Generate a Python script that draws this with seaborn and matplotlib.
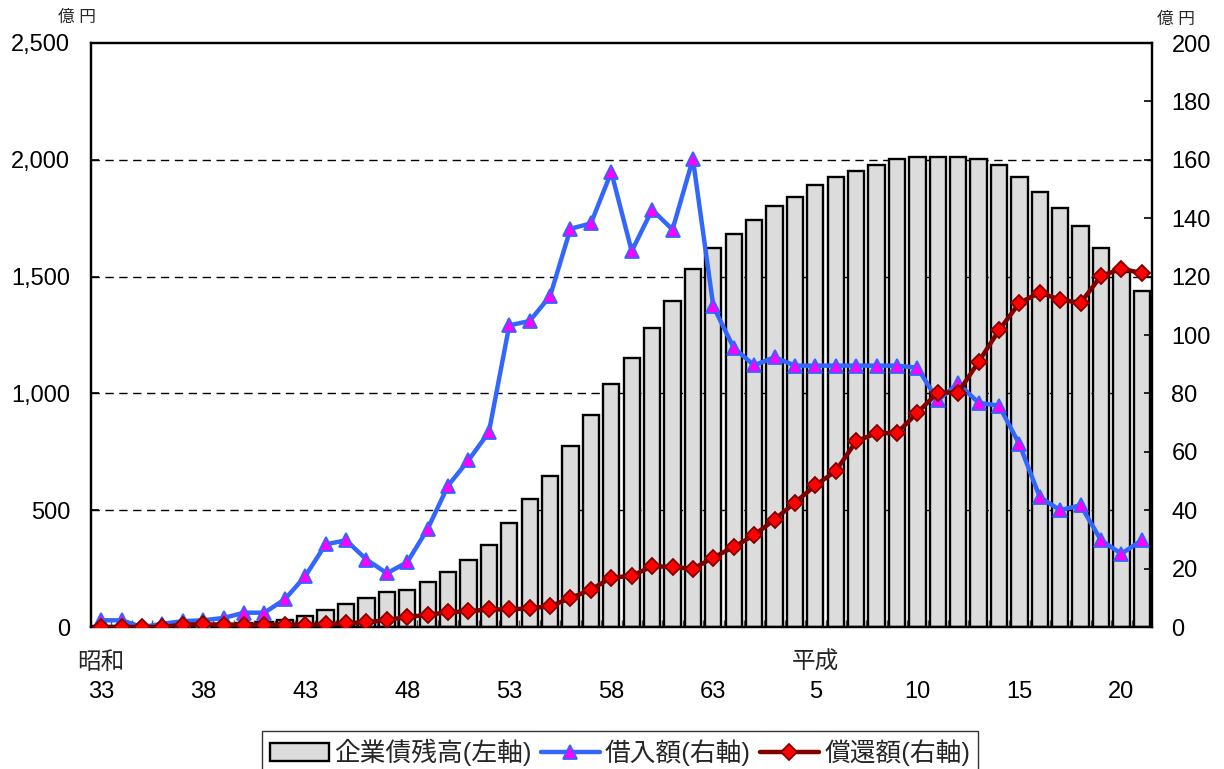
import numpy as np
import pandas as pd
import matplotlib
matplotlib.use("Agg")
import matplotlib.pyplot as plt
import matplotlib.transforms as mtransforms
import seaborn as sns
from matplotlib.ticker import FuncFormatter, FixedLocator
from matplotlib.patches import Patch
from matplotlib.lines import Line2D

# Fiscal years Showa 33 (1958) .. Heisei 21 (2009)
fiscal_years = list(range(1958, 2010))
tick_positions = [0, 5, 10, 15, 20, 25, 30, 35, 40, 45, 50]
tick_labels = ["33", "38", "43", "48", "53", "58", "63", "5", "10", "15", "20"]
era_positions = [0, 35]
era_labels = ["昭和", "平成"]

# Outstanding corporate bonds (left axis, 億円)
balance = [3, 4, 5, 6, 8, 10, 13, 17, 22, 31,
           49, 74, 100, 126, 150, 159, 193, 235, 285, 352,
           445, 547, 646, 773, 907, 1042, 1153, 1279, 1395, 1532,
           1624, 1682, 1742, 1801, 1842, 1893, 1926, 1952, 1978, 2002,
           2010, 2010, 2010, 2002, 1978, 1926, 1861, 1792, 1717, 1624,
           1521, 1438]

# Borrowing (right axis, 億円)
borrowing = [2.3, 2.3, 0.0, 1.1, 2.0, 2.3, 3.1, 4.9, 4.9, 9.5,
             17.4, 28.3, 29.7, 23.1, 18.4, 22.2, 33.6, 48.4, 57.1, 66.7,
             103.3, 104.8, 113.3, 136.4, 138.2, 155.8, 128.7, 142.9, 136.1, 160.3,
             109.8, 95.6, 89.6, 92.4, 89.5, 89.5, 89.5, 89.5, 89.5, 89.5,
             88.8, 77.6, 83.4, 76.8, 75.8, 62.6, 44.5, 40.0, 41.7, 29.7,
             25.1, 29.7]

# Repayment (right axis, 億円)
repayment = [0.0, 0.0, 0.0, 0.0, 0.8, 0.9, 0.8, 0.8, 0.8, 0.8,
             0.8, 0.9, 1.2, 1.6, 2.4, 3.4, 4.2, 5.0, 5.4, 6.0,
             6.0, 6.4, 7.1, 9.9, 12.8, 16.9, 17.5, 20.8, 20.6, 19.9,
             23.8, 27.4, 31.5, 36.8, 42.6, 48.5, 53.4, 63.6, 66.4, 66.4,
             73.4, 80.3, 80.3, 90.8, 101.6, 111.0, 114.5, 112.1, 111.0, 120.2,
             122.7, 121.2]

df = pd.DataFrame({
    "idx": np.arange(len(fiscal_years)),
    "balance": balance,
    "borrowing": borrowing,
    "repayment": repayment,
})

sns.set_theme(style="white")
plt.rcParams["font.family"] = ["Liberation Sans", "Noto Sans CJK JP"]

BAR_FILL = "#dcdcdc"
BLUE = "#3366ff"
MAGENTA = "#ff00ff"
DARK_RED = "#800000"
RED = "#ff0000"
FS = 17

fig = plt.figure(figsize=(12.24, 7.69), dpi=100)
ax = fig.add_axes([91 / 1224, 1 - 627 / 769, (1152 - 91) / 1224, (627 - 43) / 769])

sns.barplot(data=df, x="idx", y="balance", ax=ax, color=BAR_FILL, saturation=1,
            edgecolor="black", linewidth=1.7, width=0.8, zorder=2)

ax.set_xlim(-0.5, len(fiscal_years) - 0.5)
ax.set_ylim(0, 2500)
ax.set_yticks(np.arange(0, 2501, 500))
ax.yaxis.set_major_formatter(FuncFormatter(lambda v, p: f"{int(v):,}"))
ax.set_axisbelow(True)
for gy in [500, 1000, 1500, 2000]:
    ax.axhline(gy, color="black", lw=1.0, ls=(0, (6, 4)), zorder=0.5)

ax.set_xticks(tick_positions)
ax.set_xticklabels(tick_labels)
ax.xaxis.set_minor_locator(FixedLocator(np.arange(0.5, len(fiscal_years) - 0.5, 1)))
ax.tick_params(axis="x", which="major", length=0, pad=39, labelsize=FS, colors="black")
ax.tick_params(axis="x", which="minor", direction="in", length=5, width=1, color="#555555", bottom=True)
ax.tick_params(axis="y", direction="in", length=6, width=1.2, pad=15, labelsize=FS, colors="black", left=True)
ax.set_xlabel("")
ax.set_ylabel("")

for sp in ax.spines.values():
    sp.set_color("black")
    sp.set_linewidth(1.6)

ax2 = ax.twinx()
sns.lineplot(data=df, x="idx", y="borrowing", ax=ax2, color=BLUE, lw=3.2,
             marker="^", markersize=10, markerfacecolor=MAGENTA,
             markeredgecolor=BLUE, markeredgewidth=1.3, legend=False, zorder=3)
sns.lineplot(data=df, x="idx", y="repayment", ax=ax2, color=DARK_RED, lw=3.2,
             marker="D", markersize=8.5, markerfacecolor=RED,
             markeredgecolor=DARK_RED, markeredgewidth=1.3, legend=False, zorder=4)
ax2.set_ylim(0, 200)
ax2.set_yticks(np.arange(0, 201, 20))
ax2.tick_params(axis="y", direction="in", length=6, width=1.2, pad=14, labelsize=FS, colors="black", right=True)
ax2.set_xlabel("")
ax2.set_ylabel("")
ax2.set_xlim(-0.5, len(fiscal_years) - 0.5)
for sp in ax2.spines.values():
    sp.set_color("black")
    sp.set_linewidth(1.6)

# Era names above the year numbers
era_tf = mtransforms.blended_transform_factory(ax.transData, ax.transAxes)
for pos, lab in zip(era_positions, era_labels):
    ax.text(pos, -36 / 584, lab, transform=era_tf, ha="center", va="center", fontsize=FS)

# Unit labels
fig.text(77 / 1224, 1 - 17 / 769, "億 円", ha="center", va="center", fontsize=12)
fig.text(1176 / 1224, 1 - 19 / 769, "億 円", ha="center", va="center", fontsize=12)

handles = [
    Patch(facecolor=BAR_FILL, edgecolor="black", linewidth=1.7),
    Line2D([], [], color=BLUE, lw=3.2, marker="^", markersize=10,
           markerfacecolor=MAGENTA, markeredgecolor=BLUE, markeredgewidth=1.3),
    Line2D([], [], color=DARK_RED, lw=3.2, marker="D", markersize=8.5,
           markerfacecolor=RED, markeredgecolor=DARK_RED, markeredgewidth=1.3),
]
labels = ["企業債残高(左軸)", "借入額(右軸)", "償還額(右軸)"]
leg = fig.legend(handles, labels, loc="upper center", bbox_to_anchor=(620 / 1224, 1 - 731 / 769),
                 bbox_transform=fig.transFigure, ncol=3, fontsize=18.5, frameon=True,
                 fancybox=False, edgecolor="black", handlelength=2.3, handletextpad=0.2,
                 columnspacing=0.35, borderpad=0.3, borderaxespad=0)
leg.get_frame().set_linewidth(1.0)

fig.savefig("out.png", dpi=100)
